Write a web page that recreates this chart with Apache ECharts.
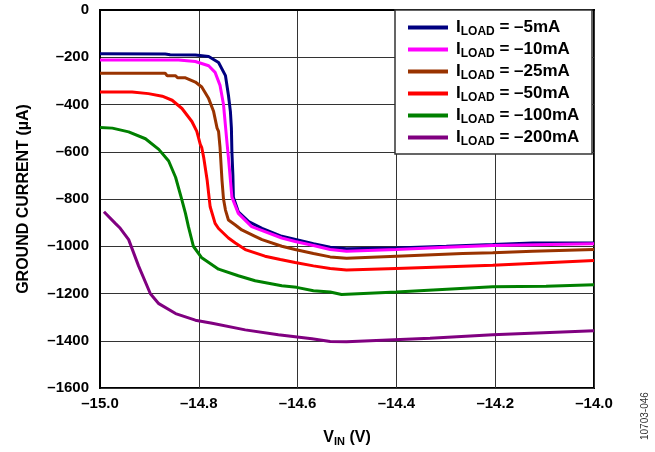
<!DOCTYPE html>
<html><head><meta charset="utf-8">
<script src="https://cdn.jsdelivr.net/npm/echarts@6/dist/echarts.min.js"></script>
<style>html,body{margin:0;padding:0;background:#fff}#c{width:655px;height:452px}</style>
</head><body><div id="c"></div>
<script>
// X axis ticks (V) and Y axis ticks (µA)
const xMin = -15.0, xMax = -14.0, xStep = 0.2;
const yMin = -1600, yMax = 0, yStep = 200;

const names = ['–5mA', '–10mA', '–25mA', '–50mA', '–100mA', '–200mA'];
const colors = ['#000080', '#ff00ff', '#993300', '#ff0000', '#008000', '#800080'];

// [VIN (V), ground current (µA)]
const load5 = [[-15.0,-185],[-14.868,-186],[-14.858,-189],[-14.807,-190],[-14.780,-197],[-14.760,-222],[-14.746,-278],[-14.740,-361],[-14.736,-430],[-14.734,-500],[-14.733,-600],[-14.731,-700],[-14.730,-792],[-14.720,-854],[-14.699,-896],[-14.672,-924],[-14.632,-958],[-14.602,-972],[-14.568,-989],[-14.534,-1004],[-14.501,-1011],[-14.400,-1007],[-14.299,-1000],[-14.205,-993],[-14.124,-986],[-14.0,-986]];
const load10 = [[-15.0,-212],[-14.841,-212],[-14.837,-218],[-14.807,-218],[-14.780,-236],[-14.767,-264],[-14.757,-319],[-14.750,-400],[-14.743,-560],[-14.740,-625],[-14.733,-792],[-14.720,-861],[-14.693,-917],[-14.632,-965],[-14.605,-980],[-14.568,-997],[-14.534,-1014],[-14.501,-1021],[-14.400,-1014],[-14.299,-1004],[-14.205,-997],[-14.0,-989]];
const load25 = [[-15.0,-268],[-14.868,-268],[-14.864,-278],[-14.847,-278],[-14.843,-287],[-14.827,-287],[-14.807,-305],[-14.794,-326],[-14.780,-375],[-14.770,-430],[-14.763,-500],[-14.760,-514],[-14.757,-583],[-14.753,-722],[-14.750,-800],[-14.746,-847],[-14.740,-889],[-14.726,-910],[-14.713,-931],[-14.686,-958],[-14.672,-972],[-14.632,-1000],[-14.605,-1014],[-14.568,-1031],[-14.534,-1045],[-14.501,-1051],[-14.400,-1042],[-14.266,-1031],[-14.205,-1028],[-14.124,-1021],[-14.0,-1014]];
const load50 = [[-15.0,-347],[-14.935,-347],[-14.932,-354],[-14.902,-354],[-14.874,-365],[-14.854,-382],[-14.834,-417],[-14.814,-472],[-14.804,-514],[-14.797,-569],[-14.794,-583],[-14.790,-625],[-14.783,-722],[-14.777,-833],[-14.767,-903],[-14.760,-925],[-14.740,-965],[-14.726,-986],[-14.706,-1014],[-14.666,-1042],[-14.635,-1056],[-14.605,-1069],[-14.568,-1083],[-14.534,-1094],[-14.501,-1101],[-14.400,-1094],[-14.205,-1080],[-14.0,-1060]];
const load100 = [[-15.0,-497],[-14.975,-500],[-14.942,-516],[-14.908,-545],[-14.881,-590],[-14.861,-639],[-14.847,-708],[-14.834,-806],[-14.827,-861],[-14.821,-917],[-14.811,-1000],[-14.794,-1049],[-14.760,-1097],[-14.720,-1125],[-14.686,-1146],[-14.632,-1167],[-14.602,-1174],[-14.568,-1188],[-14.534,-1194],[-14.511,-1204],[-14.400,-1194],[-14.205,-1171],[-14.097,-1169],[-14.0,-1163]];
const load200 = [[-14.992,-854],[-14.969,-903],[-14.959,-924],[-14.942,-972],[-14.922,-1083],[-14.898,-1201],[-14.881,-1243],[-14.847,-1285],[-14.807,-1313],[-14.773,-1326],[-14.706,-1354],[-14.639,-1375],[-14.571,-1392],[-14.534,-1403],[-14.501,-1404],[-14.332,-1389],[-14.205,-1375],[-14.0,-1358]];
const allData = [load5, load10, load25, load50, load100, load200];

const FONT = '"Liberation Sans", Arial, sans-serif';
const dash = s => String(s).replace('-', '–');

const chart = echarts.init(document.getElementById('c'), null, {renderer: 'canvas'});
chart.setOption({
  animation: false,
  backgroundColor: '#fff',
  textStyle: {fontFamily: FONT},
  grid: {left: 100, right: 61, top: 10, bottom: 58, show: true, borderColor: '#000', borderWidth: 2},
  xAxis: {
    type: 'value', min: xMin, max: xMax, interval: xStep,
    axisLine: {show: true, lineStyle: {color: '#000', width: 2}},
    axisTick: {show: false},
    splitLine: {show: true, lineStyle: {color: '#333', width: 1}},
    axisLabel: {color: '#000', fontWeight: 'bold', fontSize: 15, fontFamily: FONT, margin: 8,
      formatter: v => dash(v.toFixed(1))},
    name: 'V{sub|IN} (V)', nameLocation: 'middle', nameGap: 40,
    nameTextStyle: {color: '#000', fontWeight: 'bold', fontSize: 16, fontFamily: FONT,
      rich: {sub: {fontSize: 11, fontWeight: 'bold', fontFamily: FONT, color: '#000', verticalAlign: 'bottom', padding: [8, 0, 0, 0]}}}
  },
  yAxis: {
    type: 'value', min: yMin, max: yMax, interval: yStep,
    axisLine: {show: true, lineStyle: {color: '#000', width: 2}},
    axisTick: {show: false},
    splitLine: {show: true, lineStyle: {color: '#333', width: 1}},
    axisLabel: {color: '#000', fontWeight: 'bold', fontSize: 15, fontFamily: FONT, margin: 11,
      formatter: v => dash(v)},
    name: 'GROUND CURRENT (µA)', nameLocation: 'middle', nameGap: 68,
    nameTextStyle: {color: '#000', fontWeight: 'bold', fontSize: 16, fontFamily: FONT}
  },
  graphic: [
    {type: 'rect', z: 10, shape: {x: 395, y: 10, width: 197, height: 144},
      style: {fill: '#fff', stroke: '#333', lineWidth: 1.5}},
    {type: 'text', z: 10, x: 645, y: 440, rotation: Math.PI / 2,
      style: {text: '10703-046', fill: '#333', font: '10px ' + FONT, textAlign: 'left', textVerticalAlign: 'middle'}}
  ],
  legend: {
    orient: 'vertical', left: 403, top: 14, z: 20,
    itemWidth: 40, itemHeight: 4, itemGap: 3, icon: 'rect',
    data: names,
    formatter: n => 'I{sub|LOAD} = ' + n,
    textStyle: {color: '#000', fontWeight: 'bold', fontSize: 17, fontFamily: FONT, padding: [0, 0, 0, 3],
      rich: {sub: {fontSize: 12, fontWeight: 'bold', fontFamily: FONT, color: '#000', verticalAlign: 'bottom', padding: [9, 0, 0, 0]}}}
  },
  series: allData.map((d, i) => ({
    name: names[i], type: 'line', data: d, symbol: 'none', smooth: false,
    lineStyle: {color: colors[i], width: 3}, itemStyle: {color: colors[i]}
  }))
});
</script></body></html>
